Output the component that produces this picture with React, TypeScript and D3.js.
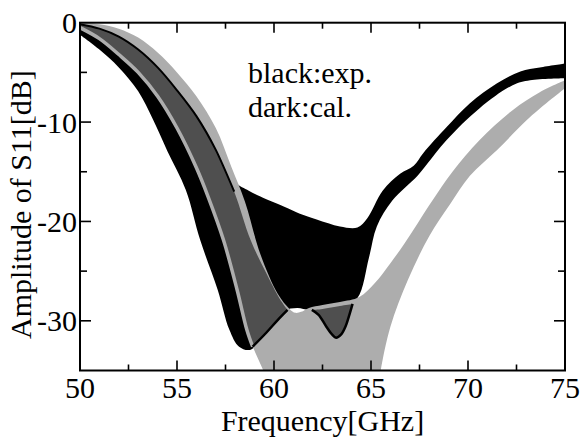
import * as d3 from "d3";

type Pt = [number, number];

// frequency [GHz], amplitude [dB]
const freqTicks = [50, 55, 60, 65, 70, 75];
const dbTicks = [0, -10, -20, -30];

// experimental envelope (black)
const expUpper: Pt[] = [
  [50, -0.1], [51, -0.3], [52, -0.8], [53, -1.7], [54, -3.2], [55, -5.2], [56, -7.7],
  [57, -11.0], [57.8, -14.7], [58.05, -16.1], [58.7, -16.9], [59.3, -17.5], [60.5, -18.5],
  [61.3, -19.2], [62.2, -19.8], [63.4, -20.5], [64.3, -20.6], [64.8, -19.7], [65.6, -16.9],
  [66.5, -15.2], [67.2, -14.4], [67.7, -13.1], [68.9, -10.5], [70.1, -8.1], [71.5, -6.1],
  [72.7, -4.9], [73.7, -4.5], [75, -4.1],
];
const expLower: Pt[] = [
  [50, -1.2], [51, -2.7], [52, -4.5], [53, -6.9], [53.75, -9.7], [54.5, -12.9], [55.45, -16.8],
  [56.2, -21.9], [57.1, -26.9], [57.7, -30.9], [58.2, -32.6], [58.8, -32.9], [59.6, -31.0],
  [60.5, -29.0], [61.2, -28.7], [61.8, -28.9], [62.5, -28.8], [63.5, -28.6], [64.3, -27.7],
  [64.9, -23.6], [65.3, -20.5], [66.1, -17.9], [67.4, -15.4], [67.9, -14.2], [68.9, -11.8],
  [70.6, -8.6], [72.3, -6.3], [73.2, -5.8], [75, -5.6],
];

// calculated envelope (light gray)
const calOuter: Pt[] = [
  [50, 0], [51, -0.15], [52, -0.6], [53, -1.5], [54, -3.0], [55, -5.0], [56, -7.4],
  [57, -10.6], [57.8, -14.5], [58.5, -18.0], [59.3, -23.3], [60.2, -27.3], [60.8, -28.8],
  [61.1, -29.2], [61.4, -29.1], [61.8, -28.7], [62.5, -28.4], [63.4, -28.1], [64.4, -27.6],
  [65.2, -26.2], [66.0, -24.2], [66.7, -22.3], [67.4, -20.2], [68.2, -17.8], [69.2, -15.0],
  [70.6, -11.8], [72.3, -8.8], [73.7, -7.0], [75, -5.8],
];
const calLower: Pt[] = [
  [75, -6.6], [73.2, -9.5], [71.5, -12.8], [70.1, -15.4], [69.1, -18.2], [68.0, -21.5],
  [66.9, -25.9], [66.0, -30.6], [65.5, -35], [65.4, -36.5],
];
const calBottom: Pt[] = [[65.4, -36.5], [59.6, -36.5], [59.45, -35], [58.9, -32.6]];

// calculated band (dark)
const darkTop: Pt[] = [
  [50, -0.15], [51, -0.6], [52, -1.4], [53, -2.7], [54, -4.5], [55, -6.8], [56, -9.4],
  [57, -12.8], [57.95, -17.0], [58.8, -21.9], [59.6, -25.2], [60.3, -27.8], [60.7, -28.9],
];
const darkBottom: Pt[] = [[60.7, -28.9], [60.2, -29.9], [59.6, -31.2], [58.9, -32.6]];
const darkInner: Pt[] = [
  [50, -0.5], [51, -1.6], [52, -3.2], [53, -5.0], [54, -7.4], [55, -10.6], [56, -14.6],
  [56.6, -17.5], [57.4, -21.9], [58.1, -26.9], [58.6, -30.9], [58.9, -32.6],
];
const darkNotch: Pt[] = [
  [61.95, -28.9], [62.3, -29.4], [62.7, -30.6], [63.0, -31.4], [63.2, -31.7], [63.45, -31.4],
  [63.7, -30.5], [63.9, -29.3], [64.05, -28.3],
];
const notchTop: Pt[] = [[64.05, -28.3], [63.4, -28.5], [62.5, -28.8], [61.95, -28.9]];

const W = 581;
const H = 444;
const left = 80, right = 565, top = 22.7, bottom = 370.5;

const x = d3.scaleLinear().domain([50, 75]).range([left, right]);
const y = d3.scaleLinear().domain([-35, 0]).range([bottom, top]);

const smooth = d3.line<Pt>().x(d => x(d[0])).y(d => y(d[1])).curve(d3.curveCatmullRom.alpha(0.5));
const straight = d3.line<Pt>().x(d => x(d[0])).y(d => y(d[1]));

function shape(edges: { pts: Pt[]; curved?: boolean }[]) {
  return edges.map((e, i) => {
    const p = (e.curved === false ? straight : smooth)(e.pts) || "";
    return i === 0 ? p : "L" + p.slice(1);
  }).join("") + "Z";
}

const rev = (a: Pt[]) => [...a].reverse();

const LIGHT = "#adadad";
const DARK = "#4f4f4f";
const font = '"Liberation Serif", "Times New Roman", serif';

export default function App() {
  const xMinor = d3.range(50, 75.01, 2.5);
  const yMinor = d3.range(-35, 0.01, 5);

  return (
    <svg width={W} height={H} style={{ position: "absolute", left: 0, top: 0, background: "#fff" }}>
      <defs>
        <clipPath id="plot">
          <rect x={left} y={top} width={right - left} height={bottom - top} />
        </clipPath>
      </defs>
      <g clipPath="url(#plot)">
        <path d={shape([{ pts: expUpper }, { pts: rev(expLower) }])} fill="#000" />
        <path
          d={shape([{ pts: calOuter }, { pts: calLower }, { pts: calBottom, curved: false }, { pts: rev(darkInner) }])}
          fill={LIGHT}
        />
        <path d={shape([{ pts: darkTop }, { pts: darkBottom }, { pts: rev(darkInner) }])} fill={DARK} />
        <path d={shape([{ pts: darkNotch }, { pts: notchTop }])} fill={DARK} />
        <path d={smooth(darkInner) || ""} fill="none" stroke={LIGHT} strokeWidth={3.5} />
        <path d={smooth(darkTop.filter(d => d[0] <= 57.95)) || ""} fill="none" stroke="#000" strokeWidth={2} />
        <path d={smooth(darkBottom) || ""} fill="none" stroke="#000" strokeWidth={2.5} />
        <path d={smooth(darkNotch) || ""} fill="none" stroke="#000" strokeWidth={2.5} />
      </g>

      <g stroke="#000" strokeWidth={1.6}>
        {xMinor.slice(1, -1).map(v => {
          const len = v % 5 === 0 ? 10 : 6;
          return (
            <g key={"x" + v}>
              <line x1={x(v)} x2={x(v)} y1={bottom} y2={bottom - len} />
              <line x1={x(v)} x2={x(v)} y1={top} y2={top + len} />
            </g>
          );
        })}
        {yMinor.slice(1, -1).map(v => {
          const len = v % 10 === 0 ? 11 : 7;
          return (
            <g key={"y" + v}>
              <line x1={left} x2={left + len} y1={y(v)} y2={y(v)} />
              <line x1={right} x2={right - len} y1={y(v)} y2={y(v)} />
            </g>
          );
        })}
        <rect x={left} y={top} width={right - left} height={bottom - top} fill="none" strokeWidth={2} />
      </g>

      <g style={{ fontFamily: font }} fontSize={30} fill="#000">
        {freqTicks.map(v => (
          <text key={"fx" + v} x={x(v)} y={398} textAnchor="middle">{v}</text>
        ))}
        {dbTicks.map(v => (
          <text key={"fy" + v} x={left - 3} y={y(v)} dy="0.35em" textAnchor="end">{v}</text>
        ))}
        <text x={(left + right) / 2} y={431} textAnchor="middle">Frequency[GHz]</text>
        <text transform={`translate(31,${(top + bottom) / 2 + 8}) rotate(-90)`} textAnchor="middle">
          Amplitude of S11[dB]
        </text>
        <text x={248} y={83}>black:exp.</text>
        <text x={248} y={117}>dark:cal.</text>
      </g>
    </svg>
  );
}
